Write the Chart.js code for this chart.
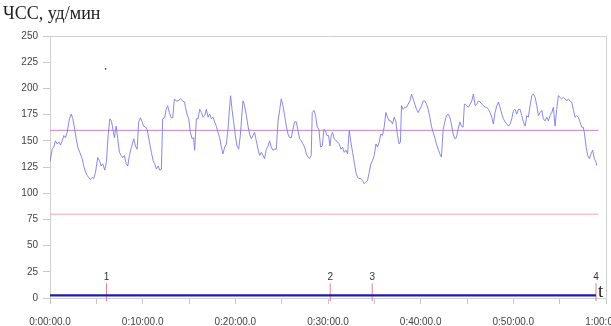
<!DOCTYPE html>
<html><head><meta charset="utf-8">
<script src="https://cdn.jsdelivr.net/npm/chart.js@4/dist/chart.umd.min.js"></script>
<style>html,body{margin:0;padding:0;background:#fff}canvas{display:block}</style>
</head><body>
<canvas id="c" width="611" height="326"></canvas>
<script>
// time in minutes
const times = [0.00,0.24,0.41,0.59,0.78,0.95,1.13,1.32,1.49,1.67,1.85,2.10,2.29,2.46,2.67,2.82,3.00,3.21,3.47,3.64,3.83,4.01,4.18,4.37,4.55,4.72,4.91,5.15,5.34,5.52,5.69,5.91,6.09,6.27,6.45,6.63,6.81,6.95,7.14,7.31,7.49,7.68,7.85,8.03,8.22,8.39,8.57,8.79,9.04,9.22,9.40,9.57,9.76,9.94,10.11,10.30,10.48,10.73,10.94,11.13,11.30,11.48,11.67,11.84,12.02,12.16,12.38,12.53,12.70,12.88,13.07,13.24,13.42,13.61,13.82,14.07,14.32,14.53,14.61,14.79,14.97,15.15,15.33,15.50,15.61,15.80,15.98,16.15,16.33,16.52,16.69,16.87,17.06,17.23,17.41,17.60,17.77,17.95,18.13,18.31,18.49,18.67,18.85,19.03,19.21,19.39,19.49,19.64,19.82,20.00,20.18,20.36,20.54,20.72,20.83,21.00,21.19,21.37,21.54,21.73,21.91,22.08,22.26,22.45,22.62,22.80,22.99,23.16,23.34,23.53,23.70,23.88,24.06,24.24,24.42,24.60,24.78,24.96,25.14,25.32,25.50,25.68,25.85,26.04,26.22,26.39,26.58,26.76,26.93,27.12,27.30,27.47,27.66,27.84,28.01,28.19,28.30,28.49,28.66,28.84,29.02,29.20,29.38,29.56,29.70,29.89,30.06,30.21,30.35,30.49,30.67,30.86,31.03,31.21,31.40,31.57,31.75,31.94,32.11,32.29,32.47,32.65,32.83,33.01,33.19,33.37,33.55,33.73,33.91,34.09,34.26,34.45,34.63,34.80,34.99,35.17,35.34,35.53,35.71,35.88,36.06,36.25,36.42,36.60,36.79,36.96,37.14,37.33,37.50,37.68,37.82,37.93,38.11,38.30,38.47,38.65,38.84,39.01,39.19,39.37,39.55,39.73,39.91,40.09,40.27,40.45,40.63,40.81,40.99,41.16,41.35,41.53,41.70,41.89,42.07,42.24,42.43,42.61,42.78,42.97,43.15,43.32,43.50,43.68,43.86,44.04,44.23,44.40,44.58,44.72,44.80,44.98,45.15,45.34,45.52,45.69,45.88,46.06,46.23,46.42,46.60,46.77,46.95,47.13,47.31,47.49,47.68,47.85,48.03,48.22,48.39,48.57,48.75,48.93,49.11,49.29,49.47,49.65,49.83,50.01,50.19,50.37,50.54,50.73,50.91,51.08,51.27,51.45,51.62,51.81,51.99,52.16,52.35,52.53,52.70,52.88,53.07,53.24,53.42,53.61,53.78,53.96,54.15,54.32,54.50,54.68,54.86,55.04,55.22,55.40,55.58,55.76,55.94,56.12,56.30,56.47,56.66,56.84,57.01,57.20,57.38,57.55,57.66,57.84,58.02,58.20,58.38,58.56,58.74,58.92,59.00];
// heart rate, beats/min
const hr = [130,142,144,150,147,149,146,150,155,153,158,171,175.5,171,161,152,144,139,133,126,120,117,115,113,115,114,120,134,131,126,128,122,130,155,171,169,160,153,164,152,139,136,134,136,128,126,136,144,152,145,142,168,172,168,164,163,161,149,139,131,128,123,126,122,123,171,172,180,183.5,177,172,172,190,188,188,190,188,187,182,175.5,171,158,152,153,141,171,171,180,177,172.5,174,180,172.5,175.5,171,172.5,168,164,158,153,144,137.5,144,147,161,183.5,193,180,168,155,145,142,155,177,188,183.5,174,164,156.5,152,155,158,150,142,136,139,136,133,142,145,150,144,141,142,142,168,179,190,183.5,174,164,156.5,153,153,161,168,168,160,152,150,147,144,137.5,134.5,133,136,177,179,174,163,161,144,145,161,160,155,155,145,155,158,152,150,149,147,142,144,139,141,137.5,160,149,139,129.6,120,115,114,114,112,109,110.6,112,120,128,131,136,147,144,149,156.5,155,163,177,172.5,169,169,166,172.5,168,155,147,149,183.5,180,182,182,185,188,194.6,190,185,180,177,180,183.5,188,188,185,180,172.5,164,158,153,147,142,137.5,134.5,161,168,174,175.5,172.5,166,156.5,152,153,161,168,164,163,185,185,183.5,182,185,188,194.6,183.5,185,188,187,185,183.5,182,182,180,177,172.5,166,177,183.5,187,182,175.5,171,168,166,164,166,171,179,180,175.5,180,180,174,168,164,174,172.5,183.5,193,194.6,191.5,183.5,174,177,179,171,169,172.5,169,174,177,182,164,180,193,191.5,190,191.5,190,188,190,188,187,180,172.5,174,172.5,168,163,163,158,145,136,133,137.5,141,133,129.6,126.5];
const limitLevels = [160, 80];
const limitEnd = 59.2;
const baseLevel = 2.5;
const baseEnd = 58.92;
const markerTimes = [6.09, 30.24, 34.77, 58.92];
const markerLabels = ['1', '2', '3', '4'];
const strayPoint = [{x: 6.0, y: 218.6}];
const xTickLabels = ['0:00:00.0','0:10:00.0','0:20:00.0','0:30:00.0','0:40:00.0','0:50:00.0','1:00:00.0'];
const yTitle = 'ЧСС, уд/мин';
const xTitle = 't';

const hrPoints = times.map((t, i) => ({x: t, y: hr[i]}));
const datasets = [
  {data: hrPoints, borderColor: '#7c7ce6', borderWidth: 0.9, pointRadius: 0, tension: 0, order: 1}
];
const limitColors = ['#c482c8', '#f2a6b6'];
limitLevels.forEach((lv, i) => datasets.push({
  data: [{x: 0, y: lv}, {x: limitEnd, y: lv}], borderColor: limitColors[i], borderWidth: 1, pointRadius: 0, order: 2
}));
datasets.push({data: [{x: 0, y: baseLevel}, {x: baseEnd, y: baseLevel}], borderColor: '#1c1ca8', borderWidth: 2.2, pointRadius: 0, order: 0});
markerTimes.forEach(t => datasets.push({
  data: [{x: t, y: -3}, {x: t, y: 14}], borderColor: '#e87a98', borderWidth: 1, pointRadius: 0, clip: false, order: 3
}));
datasets.push({data: strayPoint, showLine: false, pointRadius: 0.8, pointBackgroundColor: '#333', pointBorderWidth: 0, order: 0});

const tickFont = {family: '"Liberation Sans Narrow", "Liberation Sans", Arial, sans-serif', size: 10};

const textPlugin = {
  id: 'texts',
  afterDraw(chart) {
    const ctx = chart.ctx, xs = chart.scales.x, ys = chart.scales.y;
    ctx.save();
    ctx.fillStyle = '#222';
    ctx.font = '18px "Liberation Serif", "Times New Roman", serif';
    ctx.textBaseline = 'alphabetic';
    ctx.textAlign = 'left';
    ctx.fillText(yTitle, 3, 19);
    ctx.font = '19px "Liberation Serif", "Times New Roman", serif';
    ctx.fillText(xTitle, 598, 297);
    ctx.font = '10px "Liberation Sans Narrow", "Liberation Sans", Arial, sans-serif';
    ctx.textAlign = 'center';
    ctx.fillStyle = '#333';
    markerTimes.forEach((t, i) => {
      ctx.fillText(markerLabels[i], xs.getPixelForValue(t), ys.getPixelForValue(17));
    });
    ctx.restore();
  }
};

new Chart(document.getElementById('c'), {
  type: 'line',
  data: {datasets},
  options: {
    responsive: false,
    animation: false,
    layout: {padding: {top: 36, right: 5, left: 0, bottom: 0}},
    plugins: {legend: {display: false}, tooltip: {enabled: false}},
    scales: {
      x: {
        type: 'linear', min: 0, max: 60,
        ticks: {
          stepSize: 5, autoSkip: false, maxRotation: 0, padding: 12, color: '#444', font: tickFont,
          callback: v => (v % 10 === 0 ? xTickLabels[v / 10] : '')
        },
        grid: {
          color: c => (c.tick && c.tick.value === 60 ? '#d0d0d0' : 'rgba(0,0,0,0)'),
          tickColor: '#c8c8c8', tickLength: 6, lineWidth: 1
        },
        border: {color: '#d0d0d0'},
        afterFit: s => { s.height = 28; s.paddingLeft = 0; s.paddingRight = 0; }
      },
      y: {
        min: 0, max: 250,
        ticks: {stepSize: 25, padding: 5, color: '#444', font: tickFont},
        grid: {
          color: c => (c.tick && c.tick.value === 250 ? '#d0d0d0' : 'rgba(0,0,0,0)'),
          tickColor: '#c8c8c8', tickLength: 7
        },
        border: {color: '#d0d0d0'},
        afterFit: s => { s.width = 50; s.paddingTop = 0; s.paddingBottom = 0; }
      }
    }
  },
  plugins: [textPlugin]
});
</script>
</body></html>
